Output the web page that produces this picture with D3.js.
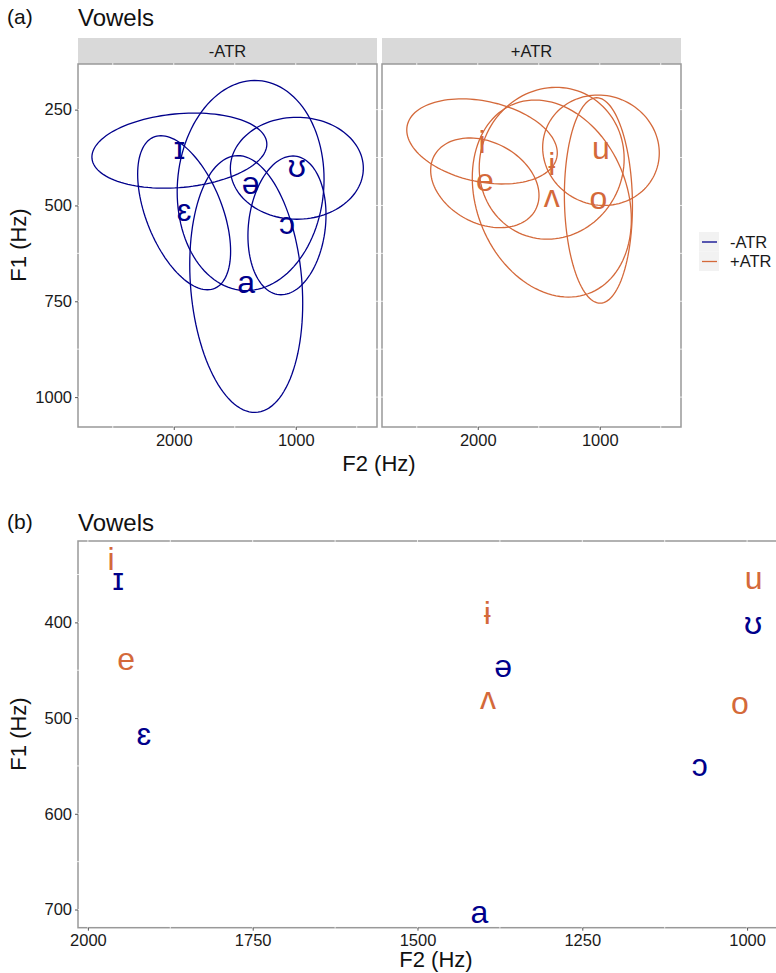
<!DOCTYPE html>
<html>
<head>
<meta charset="utf-8">
<script src="https://cdn.jsdelivr.net/npm/d3@7"></script>
<style>
body { margin: 0; background: #fff; }
text { font-family: "Liberation Sans", Arial, Helvetica, sans-serif; }
</style>
</head>
<body>
<script>
// vowel means (Hz) and ellipse spreads
var vowels  = ["ɪ", "ɛ", "ə", "ʊ", "ɔ", "a", "i", "e", "ɨ", "ʌ", "u", "o"];
var atr     = ["-ATR", "-ATR", "-ATR", "-ATR", "-ATR", "-ATR", "+ATR", "+ATR", "+ATR", "+ATR", "+ATR", "+ATR"];
var f2Mean  = [1954, 1915, 1370, 991, 1072, 1406, 1965, 1942, 1394, 1393, 990, 1011];
var f1Mean  = [357, 519, 448, 403, 552, 705, 333, 441, 390, 482, 356, 487];
var f2Range = [717, 381, 602, 545, 320, 463, 617, 444, 594, 652, 478, 279];
var f1Range = [98, 201, 274, 133, 181, 335, 111, 117, 198, 257, 144, 268];
var rho     = [0.17, -0.5, 0.06, 0, 0.15, -0.15, -0.27, -0.28, 0.06, -0.21, -0.05, -0.05];

var groups = ["-ATR", "+ATR"];
var colors = ["#00008B", "#D4693A"];

var topYTicks = [250, 500, 750, 1000];
var topXTicks = [2000, 1000];
var botYTicks = [400, 500, 600, 700];
var botXTicks = [2000, 1750, 1500, 1250, 1000];

var color = d3.scaleOrdinal().domain(groups).range(colors);

var svg = d3.select("body").append("svg")
    .attr("width", 776)
    .attr("height", 973);

var tallGlyphs = ["i", "ɨ"];

function frame(g, x, y, xMajor, yMajor) {
    var x0 = d3.min(x.range()), x1 = d3.max(x.range());
    var y0 = d3.min(y.range()), y1 = d3.max(y.range());
    g.append("rect")
        .attr("x", x0).attr("y", y0)
        .attr("width", x1 - x0).attr("height", y1 - y0)
        .attr("fill", "#fff").attr("stroke", "#999").attr("stroke-width", 1.5);
    // white grid lines (major + minor)
    var xStep = xMajor[0] - xMajor[1];
    var xs = [], ys = [];
    var xd = x.domain(), yd = y.domain();
    for (var v = xMajor[0] + 5 * xStep; v > xMajor[xMajor.length - 1] - 5 * xStep; v -= xStep / 2) {
        if (v < xd[0] && v > xd[1]) xs.push(v);
    }
    var yStep = yMajor[1] - yMajor[0];
    for (var w = yMajor[0] - 5 * yStep; w < yMajor[yMajor.length - 1] + 5 * yStep; w += yStep / 2) {
        if (w > yd[0] && w < yd[1]) ys.push(w);
    }
    g.selectAll(null).data(xs).enter().append("line")
        .attr("x1", function (d) { return x(d); }).attr("x2", function (d) { return x(d); })
        .attr("y1", y0 - 1).attr("y2", y1 + 1)
        .attr("stroke", "#fff").attr("stroke-width", 0.8);
    g.selectAll(null).data(ys).enter().append("line")
        .attr("y1", function (d) { return y(d); }).attr("y2", function (d) { return y(d); })
        .attr("x1", x0 - 1).attr("x2", x1 + 1)
        .attr("stroke", "#fff").attr("stroke-width", 0.8);
}

function styleAxis(a) {
    a.attr("font-size", null).attr("font-family", null);
    a.select(".domain").remove();
    a.selectAll(".tick line").attr("stroke", "#555").attr("stroke-width", 1);
    a.selectAll(".tick text").attr("fill", "#1a1a1a").style("font-size", "16.5px");
}

function vowelLabels(g, idx, x, y) {
    g.selectAll(null).data(idx).enter().append("text")
        .attr("x", function (i) { return x(f2Mean[i]); })
        .attr("y", function (i) { return y(f1Mean[i]); })
        .attr("dy", function (i) { return tallGlyphs.indexOf(vowels[i]) >= 0 ? "0.36em" : "0.27em"; })
        .attr("text-anchor", "middle")
        .attr("font-size", 32)
        .attr("fill", function (i) { return color(atr[i]); })
        .text(function (i) { return vowels[i]; });
}

function ellipsePoints(i) {
    var phi = Math.acos(rho[i]);
    return d3.range(0, 361, 3).map(function (deg) {
        var t = deg * Math.PI / 180;
        return { f2: f2Mean[i] + f2Range[i] * Math.cos(t), f1: f1Mean[i] + f1Range[i] * Math.cos(t + phi) };
    });
}

// ---------- (a) faceted ellipses ----------
svg.append("text").attr("x", 7).attr("y", 24).attr("font-size", 21).attr("fill", "#111").text("(a)");
svg.append("text").attr("x", 78).attr("y", 26).attr("font-size", 24).attr("fill", "#111").text("Vowels");

var yTop = d3.scaleLinear().domain([131, 1078]).range([64, 427]);
var panelX = [[78, 377], [382, 681]];

groups.forEach(function (grp, p) {
    var x = d3.scaleLinear().domain([2785, 334]).range(panelX[p]);
    var g = svg.append("g");

    g.append("rect")
        .attr("x", panelX[p][0]).attr("y", 38)
        .attr("width", panelX[p][1] - panelX[p][0]).attr("height", 26)
        .attr("fill", "#D9D9D9");
    g.append("text")
        .attr("x", (panelX[p][0] + panelX[p][1]) / 2).attr("y", 51).attr("dy", "0.36em")
        .attr("text-anchor", "middle").attr("font-size", 16.5).attr("fill", "#1a1a1a")
        .text(grp);

    frame(g, x, yTop, topXTicks, topYTicks);

    var idx = d3.range(vowels.length).filter(function (i) { return atr[i] === grp; });
    var line = d3.line()
        .x(function (d) { return x(d.f2); })
        .y(function (d) { return yTop(d.f1); })
        .curve(d3.curveLinearClosed);
    g.selectAll(null).data(idx).enter().append("path")
        .attr("d", function (i) { return line(ellipsePoints(i)); })
        .attr("fill", "none")
        .attr("stroke", color(grp))
        .attr("stroke-width", 1.3);

    vowelLabels(g, idx, x, yTop);

    g.append("g")
        .attr("transform", "translate(0,427)")
        .call(d3.axisBottom(x).tickValues(topXTicks).tickFormat(d3.format("d")).tickSize(3).tickPadding(4))
        .call(styleAxis);
    if (p === 0) {
        g.append("g")
            .attr("transform", "translate(78,0)")
            .call(d3.axisLeft(yTop).tickValues(topYTicks).tickFormat(d3.format("d")).tickSize(3).tickPadding(3))
            .call(styleAxis);
    }
});

svg.append("text").attr("x", 379).attr("y", 471).attr("text-anchor", "middle")
    .attr("font-size", 22).attr("fill", "#111").text("F2 (Hz)");
svg.append("text").attr("transform", "translate(26,245) rotate(-90)").attr("text-anchor", "middle")
    .attr("font-size", 22).attr("fill", "#111").text("F1 (Hz)");

// legend
var leg = svg.append("g").attr("transform", "translate(699,232)");
groups.forEach(function (grp, k) {
    leg.append("rect").attr("x", 0).attr("y", k * 19.5).attr("width", 20).attr("height", 19.5).attr("fill", "#F2F2F2");
    leg.append("line").attr("x1", 3).attr("x2", 18).attr("y1", k * 19.5 + 10).attr("y2", k * 19.5 + 10)
        .attr("stroke", color(grp)).attr("stroke-width", 1.3);
    leg.append("text").attr("x", 31).attr("y", k * 19.5 + 10).attr("dy", "0.36em")
        .attr("font-size", 16.5).attr("fill", "#1a1a1a").text(grp);
});

// ---------- (b) vowel means ----------
svg.append("text").attr("x", 7).attr("y", 529).attr("font-size", 21).attr("fill", "#111").text("(b)");
svg.append("text").attr("x", 78).attr("y", 531).attr("font-size", 24).attr("fill", "#111").text("Vowels");

var xBot = d3.scaleLinear().domain([2015, 941]).range([78, 786]);
var yBot = d3.scaleLinear().domain([315, 719]).range([541, 927.7]);
var gb = svg.append("g");
frame(gb, xBot, yBot, botXTicks, botYTicks);
vowelLabels(gb, d3.range(vowels.length), xBot, yBot);

gb.append("g")
    .attr("transform", "translate(0,927.7)")
    .call(d3.axisBottom(xBot).tickValues(botXTicks).tickFormat(d3.format("d")).tickSize(3).tickPadding(4))
    .call(styleAxis);
gb.append("g")
    .attr("transform", "translate(78,0)")
    .call(d3.axisLeft(yBot).tickValues(botYTicks).tickFormat(d3.format("d")).tickSize(3).tickPadding(3))
    .call(styleAxis);

svg.append("text").attr("x", 436).attr("y", 967).attr("text-anchor", "middle")
    .attr("font-size", 22).attr("fill", "#111").text("F2 (Hz)");
svg.append("text").attr("transform", "translate(26,734) rotate(-90)").attr("text-anchor", "middle")
    .attr("font-size", 22).attr("fill", "#111").text("F1 (Hz)");
</script>
</body>
</html>
